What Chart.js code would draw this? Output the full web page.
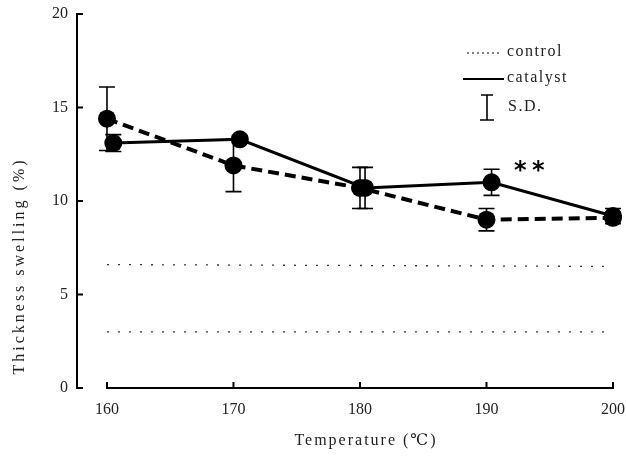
<!DOCTYPE html>
<html>
<head>
<meta charset="utf-8">
<script src="https://cdn.jsdelivr.net/npm/chart.js@4.4.1/dist/chart.umd.min.js"></script>
<style>
  html, body { margin: 0; padding: 0; background: #fff; }
  #wrap { width: 626px; height: 461px; }
</style>
</head>
<body>
<div id="wrap"><canvas id="lineChart"></canvas></div>
<script>
// temperatures (x) and readings (%)
var temps = [160, 170, 180, 190, 200];
var dashedVals = [14.4, 11.9, 10.7, 9.0, 9.1];
var dashedSD = [1.7, 1.4, 1.1, 0.6, 0.3];
var catalystTemps = [160.5, 170.5, 180.4, 190.4, 200];
var catalystVals = [13.1, 13.3, 10.7, 11.0, 9.2];
var catalystSD = [0.45, 0.2, 1.1, 0.7, 0.4];
var controlTemps = [160, 200];
var controlUpper = [6.6, 6.5];
var controlLower = [3.0, 3.0];
var xTicks = [160, 170, 180, 190, 200];
var yTicks = [0, 5, 10, 15, 20];

var SERIF = '"Liberation Serif", "DejaVu Serif", "Noto Sans CJK JP", serif';

function pts(xs, ys) {
    return xs.map(function (x, i) { return { x: x, y: ys[i] }; });
}

// axes, error bars, legend and labels drawn in the old journal style
var paperPlugin = {
    id: 'paper',
    beforeDatasetsDraw: function (chart) {
        var ctx = chart.ctx, x = chart.scales.x, y = chart.scales.y;
        ctx.save();
        ctx.strokeStyle = '#000';
        ctx.lineWidth = 1.6;
        function bars(xs, vals, sd) {
            xs.forEach(function (t, i) {
                var px = x.getPixelForValue(t);
                var top = y.getPixelForValue(vals[i] + sd[i]);
                var bot = y.getPixelForValue(vals[i] - sd[i]);
                ctx.beginPath();
                ctx.moveTo(px, top); ctx.lineTo(px, bot);
                ctx.moveTo(px - 8, top); ctx.lineTo(px + 8, top);
                ctx.moveTo(px - 8, bot); ctx.lineTo(px + 8, bot);
                ctx.stroke();
            });
        }
        bars(temps, dashedVals, dashedSD);
        bars(catalystTemps, catalystVals, catalystSD);
        ctx.restore();
    },
    afterDraw: function (chart) {
        var ctx = chart.ctx, x = chart.scales.x, y = chart.scales.y;
        var left = chart.chartArea.left;
        ctx.save();
        ctx.strokeStyle = '#000';
        ctx.fillStyle = '#222';
        ctx.lineWidth = 2;

        // y axis
        ctx.beginPath();
        ctx.moveTo(left, y.getPixelForValue(20));
        ctx.lineTo(left, y.getPixelForValue(0));
        ctx.stroke();
        ctx.font = '16px ' + SERIF;
        ctx.textAlign = 'right';
        ctx.textBaseline = 'middle';
        yTicks.forEach(function (v) {
            var py = y.getPixelForValue(v);
            ctx.beginPath();
            ctx.moveTo(left - 1, py); ctx.lineTo(left + 6, py);
            ctx.stroke();
            ctx.fillText(String(v), left - 9, py);
        });

        // x axis (starts at 160, detached from the y axis)
        var y0 = y.getPixelForValue(0);
        ctx.beginPath();
        ctx.moveTo(x.getPixelForValue(160), y0);
        ctx.lineTo(x.getPixelForValue(200), y0);
        ctx.stroke();
        ctx.textAlign = 'center';
        ctx.textBaseline = 'top';
        xTicks.forEach(function (t) {
            var px = x.getPixelForValue(t);
            ctx.beginPath();
            ctx.moveTo(px, y0 + 1); ctx.lineTo(px, y0 - 6);
            ctx.stroke();
            ctx.fillText(String(t), px, y0 + 14);
        });

        // axis titles
        ctx.letterSpacing = '2px';
        ctx.fillText('Temperature (\u2103)', 366, 433);
        ctx.save();
        ctx.translate(20, 266);
        ctx.rotate(-Math.PI / 2);
        ctx.letterSpacing = '3px';
        ctx.textBaseline = 'middle';
        ctx.fillText('Thickness swelling (%)', 0, 0);
        ctx.restore();

        // legend
        ctx.font = '16px ' + SERIF;
        ctx.letterSpacing = '1.5px';
        ctx.textAlign = 'left';
        ctx.textBaseline = 'middle';
        ctx.lineWidth = 1.2;
        ctx.setLineDash([2, 3]);
        ctx.beginPath(); ctx.moveTo(467, 53); ctx.lineTo(499, 53); ctx.stroke();
        ctx.setLineDash([]);
        ctx.fillText('control', 507, 52);
        ctx.lineWidth = 2;
        ctx.beginPath(); ctx.moveTo(463, 79); ctx.lineTo(504, 79); ctx.stroke();
        ctx.fillText('catalyst', 507, 78);
        ctx.lineWidth = 1.6;
        ctx.beginPath();
        ctx.moveTo(487, 95); ctx.lineTo(487, 120);
        ctx.moveTo(481, 95); ctx.lineTo(493, 95);
        ctx.moveTo(480, 120); ctx.lineTo(494, 120);
        ctx.stroke();
        ctx.fillText('S.D.', 508, 107);

        // significance mark
        ctx.letterSpacing = '0px';
        ctx.font = 'bold 24px ' + '"DejaVu Sans", sans-serif';
        ctx.fillStyle = '#000';
        ctx.fillText('*', 514, 172);
        ctx.fillText('*', 532, 172);
        ctx.restore();
    }
};

var ctx = document.getElementById('lineChart').getContext('2d');
var chart = new Chart(ctx, {
    type: 'line',
    data: {
        datasets: [
            {
                label: 'control',
                data: pts(controlTemps, controlUpper),
                borderColor: '#333',
                borderWidth: 1.3,
                borderDash: [2, 9],
                pointRadius: 0,
                fill: false,
                clip: false
            },
            {
                label: 'control',
                data: pts(controlTemps, controlLower),
                borderColor: '#333',
                borderWidth: 1.3,
                borderDash: [2, 9],
                pointRadius: 0,
                fill: false,
                clip: false
            },
            {
                label: 'no catalyst',
                data: pts(temps, dashedVals),
                borderColor: '#000',
                borderWidth: 4,
                borderDash: [11, 6],
                pointRadius: 9,
                pointBackgroundColor: '#000',
                pointBorderWidth: 0,
                fill: false,
                clip: false
            },
            {
                label: 'catalyst',
                data: pts(catalystTemps, catalystVals),
                borderColor: '#000',
                borderWidth: 3,
                pointRadius: 9,
                pointBackgroundColor: '#000',
                pointBorderWidth: 0,
                fill: false,
                clip: false
            }
        ]
    },
    options: {
        responsive: true,
        maintainAspectRatio: false,
        animation: false,
        layout: { padding: { left: 77, right: 13, top: 14, bottom: 73 } },
        plugins: { legend: { display: false }, tooltip: { enabled: false } },
        scales: {
            x: { type: 'linear', min: 157.63, max: 200, display: false },
            y: { min: 0, max: 20, display: false }
        }
    },
    plugins: [paperPlugin]
});
</script>
</body>
</html>
